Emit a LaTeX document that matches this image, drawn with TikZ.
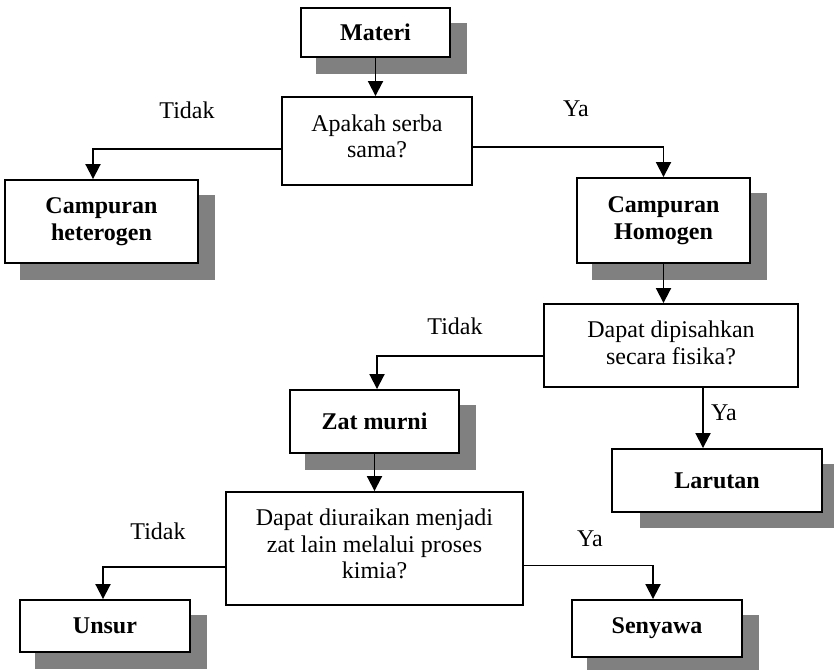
\documentclass[tikz,border=0pt]{standalone}
\usepackage{fontspec}
\setmainfont{Liberation Serif}
\usetikzlibrary{arrows.meta,calc,backgrounds}
\definecolor{shadowgray}{HTML}{808080}
\begin{document}
\begin{tikzpicture}[x=1pt,y=-1pt,
  box/.style={draw,line width=1.9pt,fill=white,inner sep=0pt,align=center,font=\fontsize{24}{26.5}\selectfont\bfseries},
  qbox/.style={draw,line width=1.9pt,fill=white,inner sep=0pt,align=center,font=\fontsize{24}{26.5}\selectfont},
  arr/.style={line width=1.9pt,-{Triangle[width=15pt,length=15pt]}},
  lbl/.style={inner sep=0pt,anchor=base,font=\fontsize{24}{26.5}\selectfont}]
\useasboundingbox (0,0) rectangle (834,669);

% nodes
\node[box,minimum width=149pt,minimum height=49pt] (mat) at (375.5,32.5) {Materi};
\node[qbox,minimum width=190pt,minimum height=88pt] (q1) at (377,141) {Apakah serba\\sama?\\[-17pt]\mbox{}};
\node[box,minimum width=193pt,minimum height=83pt] (het) at (101.5,221.5) {Campuran\\heterogen};
\node[box,minimum width=173pt,minimum height=85pt] (hom) at (663.5,220.5) {Campuran\\Homogen};
\node[qbox,minimum width=254pt,minimum height=83pt] (q2) at (671,345.5) {Dapat dipisahkan\\secara fisika?\\[-20.5pt]\mbox{}};
\node[box,minimum width=169pt,minimum height=63pt] (zm) at (374.5,421.5) {Zat murni};
\node[box,minimum width=210pt,minimum height=63pt] (lar) at (717,480.5) {Larutan};
\node[qbox,minimum width=297pt,minimum height=113pt] (q3) at (374.5,548.5)
  {Dapat diuraikan menjadi\\zat lain melalui proses\\kimia?\\[-17pt]\mbox{}};
\node[box,minimum width=170pt,minimum height=52pt] (uns) at (105,626) {Unsur};
\node[box,minimum width=170pt,minimum height=57pt] (sen) at (657,628.5) {Senyawa};

% labels
\node[lbl] (t1) at (187,118) {Tidak};
\node[lbl] (y1) at (576,116) {Ya};
\node[lbl] (t2) at (455,334) {Tidak};
\node[lbl] (y2) at (724,420) {Ya};
\node[lbl] (t3) at (158,539) {Tidak};
\node[lbl] (y3) at (590,546) {Ya};

% shadows
\begin{scope}[on background layer]
\foreach \n in {mat,het,hom,zm,uns,sen}
  \fill[shadowgray] ($(\n.south west)+(16,16)$) rectangle ($(\n.north east)+(16,16)$);
\fill[shadowgray] ($(lar.south west)+(29,15)$) rectangle ($(lar.north east)+(12,16)$);
\end{scope}

% connectors
\draw[arr] (mat.south) -- (mat.south |- q1.north);
\draw[arr] ($(q1.west)+(0,8)$) -| ([xshift=-8.5pt]het.north);
\draw[arr] ($(q1.east)+(0,6)$) -| (hom.north);
\draw[arr] (hom.south) -- (hom.south |- q2.north);
\draw[arr] ($(q2.west)+(0,10.5)$) -| ([xshift=2.5pt]zm.north);
\coordinate (larin) at ($(lar.north)+(-14,0)$);
\draw[arr] (q2.south -| larin) -- (larin);
\draw[arr] (zm.south) -- (zm.south |- q3.north);
\draw[arr] ($(q3.west)+(0,18.5)$) -| ([xshift=-2pt]uns.north);
\draw[arr] ($(q3.east)+(0,17)$) -| ([xshift=-4pt]sen.north);
\end{tikzpicture}
\end{document}
